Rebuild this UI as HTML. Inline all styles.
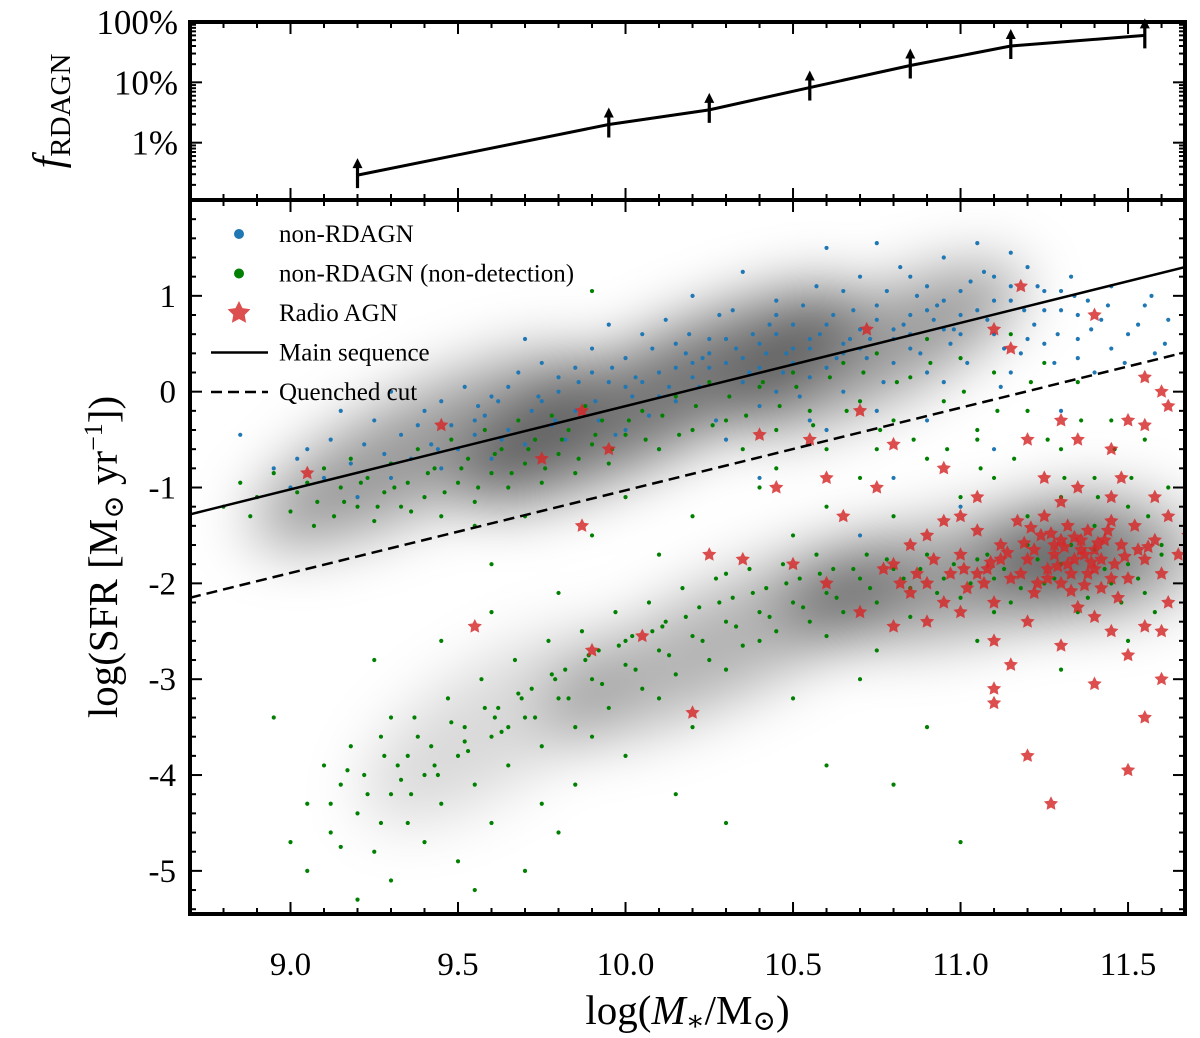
<!DOCTYPE html>
<html><head><meta charset="utf-8"><style>
html,body{margin:0;padding:0;background:#fff}
svg{display:block;font-family:"Liberation Serif","DejaVu Serif",serif}
</style></head><body>
<svg id="c" width="1200" height="1038" viewBox="0 0 1200 1038">
<defs>
<filter id="blur" x="-50%" y="-50%" width="200%" height="200%"><feGaussianBlur stdDeviation="30"/></filter>
<clipPath id="mainclip"><rect x="190" y="200" width="995" height="715"/></clipPath>
</defs>
<g id="density" clip-path="url(#mainclip)"><g id="densin" filter="url(#blur)"></g></g>
<g id="pts" clip-path="url(#mainclip)"></g>
<g id="axes"></g>
</svg>
<script>
const frac_x=[9.2,9.95,10.25,10.55,10.85,11.15,11.55];
const frac_pct=[0.29,2.0,3.5,8.2,19,40,60];
const blue=[8.85,-0.45,8.95,-0.8,9.0,-1.0,9.05,-0.6,9.1,-0.9,9.12,-0.5,9.18,-0.75,9.2,-1.1,9.25,-0.3,9.28,-0.65,9.3,-0.9,9.33,-0.45,9.36,-0.7,9.4,-0.2,9.42,-0.55,9.45,-0.8,9.48,-0.35,9.5,-0.6,9.52,0.05,9.55,-0.45,9.58,-0.25,9.6,-0.7,9.62,-0.1,9.65,-0.4,9.68,0.2,9.7,-0.55,9.72,-0.2,9.75,0.3,9.78,-0.35,9.8,0.0,9.82,-0.5,9.85,0.25,9.88,-0.15,9.9,0.45,9.92,-0.3,9.95,0.1,9.97,-0.45,10.0,0.35,10.02,-0.05,10.05,0.6,10.07,-0.25,10.1,0.2,10.12,0.75,10.15,-0.1,10.18,0.4,10.2,1.0,10.22,0.05,10.25,0.55,10.27,-0.3,10.3,0.3,10.32,0.85,10.35,0.1,10.38,0.6,10.4,-0.15,10.42,0.4,10.45,0.95,10.47,0.2,10.5,0.7,10.52,-0.05,10.55,0.45,10.57,1.1,10.6,0.25,10.62,0.8,10.65,0.0,10.67,0.55,10.7,1.2,10.72,0.35,10.75,0.9,10.77,0.1,10.8,0.65,10.82,1.3,10.85,0.45,10.87,1.0,10.9,0.2,10.92,0.75,10.95,1.4,10.97,0.5,11.0,1.05,11.02,0.3,11.05,0.85,11.07,1.25,11.1,0.6,11.12,0.05,11.15,0.95,11.18,0.4,11.2,1.3,11.22,0.7,11.25,1.05,11.28,0.3,11.3,0.85,11.33,1.2,11.35,0.55,11.38,0.95,11.4,0.2,11.42,0.75,11.45,1.1,11.5,0.6,11.55,0.9,11.58,0.4,11.62,0.75,10.1,-0.6,10.3,-0.5,10.6,-0.4,10.9,-0.3,11.1,-0.6,11.3,-0.2,10.8,-0.9,11.0,-1.2,10.7,-1.5,10.4,-0.9,9.95,0.7,9.7,0.55,10.35,1.25,10.6,1.5,10.75,1.55,11.05,1.55,11.15,1.45,9.3,0.0,9.15,-0.2,10.0,-0.4,10.45,0.0,10.55,0.15,10.65,0.4,10.85,0.8,11.25,0.5,11.45,0.45,10.25,0.25,10.15,0.5,9.85,-0.2,9.6,-0.05,10.4,0.5,10.7,0.65,10.95,0.95,11.15,1.1,11.35,0.8,10.05,0.1,10.2,0.3,10.5,0.45,10.8,0.3,11.0,0.6,9.75,-0.1,10.35,0.35,10.9,1.1,11.25,0.85,
9.02,-0.7,9.22,-0.55,9.38,-0.35,9.44,-0.6,9.56,-0.15,9.63,-0.5,9.74,-0.05,9.79,-0.3,9.86,0.1,9.91,-0.1,9.96,0.25,10.03,0.15,10.08,0.45,10.13,0.05,10.19,0.6,10.23,0.35,10.28,0.8,10.33,0.45,10.37,0.2,10.43,0.7,10.48,0.4,10.53,0.9,10.58,0.6,10.63,0.35,10.68,0.85,10.73,0.55,10.78,1.05,10.83,0.7,10.88,0.4,10.93,0.9,10.98,0.65,11.03,1.15,11.08,0.75,11.13,0.45,11.19,0.85,11.23,1.1,11.29,0.6,11.34,1.0,11.39,0.65,11.44,0.9,11.49,0.3,11.53,0.7,11.57,1.0,11.61,0.5,10.3,0.55,10.45,0.6,10.6,0.7,10.75,0.75,10.9,0.85,10.5,0.3,10.65,0.5,10.8,0.55,10.95,0.65,11.1,0.95,10.15,0.25,10.25,0.4,10.4,0.25,10.55,0.55,10.7,0.45,10.85,0.6,11.0,0.8,11.2,0.55,10.1,-0.05,9.9,0.2,10.0,0.05,10.2,0.15,9.8,0.15,9.65,0.05,9.55,-0.3,9.45,-0.1,10.85,1.2,10.65,1.05,10.45,0.8,11.1,1.2,11.3,1.05,10.55,-0.3,10.75,-0.2,10.95,0.1,11.15,0.2,11.35,0.35];
const green=[8.8,-1.2,8.85,-0.95,8.9,-1.1,8.95,-0.85,9.0,-1.25,9.05,-0.95,9.08,-1.15,9.1,-0.8,9.13,-1.3,9.15,-1.0,9.18,-0.7,9.2,-1.2,9.23,-0.9,9.25,-1.35,9.28,-1.05,9.3,-0.75,9.33,-1.2,9.35,-0.95,9.38,-0.6,9.4,-1.1,9.43,-0.8,9.45,-1.3,9.48,-0.5,9.5,-0.95,9.53,-0.7,9.55,-1.15,9.58,-0.4,9.6,-0.85,9.63,-0.6,9.65,-1.0,9.68,-0.3,9.7,-0.75,9.73,-0.5,9.75,-0.95,9.78,-0.25,9.8,-0.65,9.83,-0.4,9.85,-0.85,9.88,-0.15,9.9,-0.55,9.93,-0.3,9.95,-0.75,10.0,-0.45,10.05,-0.2,10.1,-0.6,10.15,-0.05,10.2,-0.4,10.25,0.1,10.3,-0.3,10.35,-0.6,10.4,0.05,10.45,-0.4,10.5,0.2,10.55,-0.2,10.6,-0.6,10.65,0.3,10.7,-0.1,10.75,0.4,10.8,-0.3,10.85,0.15,10.9,0.55,10.95,-0.1,11.0,0.35,11.05,-0.4,11.1,0.2,11.15,0.6,11.2,-0.2,11.25,0.3,11.3,-0.6,11.35,0.1,11.4,-0.9,11.45,-0.3,11.5,-1.2,11.55,-0.5,11.6,-1.6,11.62,-1.0,9.9,1.05,
9.7,-1.3,9.9,-1.5,10.0,-1.1,10.1,-1.7,10.2,-1.3,10.3,-1.9,10.4,-1.0,10.5,-1.5,10.6,-1.2,10.7,-0.9,10.8,-1.3,10.9,-0.7,11.0,-1.1,11.1,-0.9,11.2,-1.3,11.3,-1.1,11.4,-1.4,9.8,-2.1,9.6,-1.8,10.45,-0.8,10.75,-0.6,11.05,-0.5,9.55,-1.4,
9.05,-4.3,9.1,-3.9,9.12,-4.6,9.15,-4.1,9.18,-3.7,9.2,-4.4,9.22,-4.0,9.25,-4.8,9.27,-3.6,9.3,-4.2,9.32,-3.9,9.35,-4.5,9.37,-3.4,9.4,-4.0,9.42,-3.7,9.45,-4.3,9.47,-3.2,9.5,-3.8,9.52,-3.5,9.55,-4.1,9.57,-3.0,9.6,-3.6,9.62,-3.3,9.65,-3.9,9.67,-2.8,9.7,-3.4,9.72,-3.1,9.75,-3.7,9.77,-2.6,9.8,-3.2,9.82,-2.9,9.85,-3.5,9.87,-2.5,9.9,-3.0,9.92,-2.7,9.95,-3.3,9.97,-2.3,10.0,-2.85,10.02,-2.55,10.05,-3.1,10.07,-2.2,10.1,-2.7,10.12,-2.4,10.15,-2.95,10.17,-2.05,10.2,-2.55,10.22,-2.25,10.25,-2.8,10.27,-1.95,10.3,-2.4,10.32,-2.15,10.35,-2.65,10.37,-1.85,10.4,-2.3,10.42,-2.05,10.45,-2.5,10.47,-1.8,10.5,-2.2,10.52,-1.95,10.55,-2.4,10.57,-1.7,10.6,-2.1,10.62,-1.85,10.65,-2.3,10.7,-1.95,10.72,-1.7,10.75,-2.2,10.8,-1.85,10.85,-2.05,10.9,-1.7,10.95,-1.95,11.0,-2.15,11.05,-1.75,11.1,-1.95,11.15,-2.2,11.2,-1.6,11.25,-2.0,11.3,-1.8,11.35,-2.3,11.4,-1.65,11.45,-2.0,11.5,-1.8,11.55,-2.1,11.6,-1.7,
8.95,-3.4,9.0,-4.7,9.05,-5.0,9.2,-5.3,9.3,-5.1,9.5,-4.9,9.6,-4.5,9.7,-5.0,9.8,-4.6,10.15,-4.2,10.3,-4.5,10.6,-3.9,10.8,-4.1,11.0,-4.7,10.9,-3.5,10.7,-3.0,10.5,-3.2,10.2,-3.5,10.0,-3.8,9.45,-2.6,9.25,-2.8,9.6,-2.3,11.3,-2.9,11.5,-2.6,10.75,-2.7,11.05,-2.6,9.85,-4.1,9.4,-4.7,9.15,-4.75,9.55,-5.2,9.3,-3.4,9.75,-4.3,9.35,-3.8,9.65,-3.5,9.9,-3.6,10.1,-3.2,10.3,-2.9,10.4,-2.6,10.6,-2.55,10.85,-2.35,11.1,-2.3,
8.88,-1.3,9.02,-1.05,9.07,-1.4,9.16,-1.15,9.21,-0.95,9.26,-1.2,9.31,-1.0,9.36,-1.25,9.41,-0.85,9.46,-1.05,9.51,-0.8,9.56,-1.0,9.61,-0.65,9.66,-0.85,9.71,-0.6,9.76,-0.8,9.81,-0.5,9.86,-0.7,9.91,-0.45,9.96,-0.6,10.01,-0.3,10.06,-0.5,10.11,-0.25,10.16,-0.45,10.21,-0.15,10.26,-0.35,10.31,-0.05,10.36,-0.25,10.41,0.1,10.46,-0.15,10.51,0.05,10.56,-0.35,10.61,0.15,10.66,-0.2,10.71,0.2,10.76,-0.4,10.81,0.1,10.86,-0.5,10.91,0.3,10.96,-0.6,11.01,0.0,11.06,-0.8,11.11,-0.2,11.16,-0.7,11.21,0.1,11.26,-0.5,11.31,-0.9,11.36,-0.3,11.41,-1.1,11.46,-0.6,11.51,-0.9,11.56,-1.3,
9.12,-4.3,9.17,-3.95,9.23,-4.2,9.28,-3.8,9.33,-4.05,9.38,-3.6,9.43,-3.9,9.48,-3.45,9.53,-3.75,9.58,-3.3,9.63,-3.55,9.68,-3.15,9.73,-3.4,9.78,-2.95,9.83,-3.2,9.88,-2.8,9.93,-3.05,9.98,-2.65,10.03,-2.9,10.08,-2.5,10.13,-2.75,10.18,-2.35,10.23,-2.6,10.28,-2.2,10.33,-2.45,10.38,-2.1,10.43,-2.35,10.48,-2.0,10.53,-2.25,10.58,-1.9,10.63,-2.15,10.68,-1.85,10.73,-2.05,10.78,-1.75,10.83,-1.95,10.88,-1.85,10.93,-2.1,10.98,-1.8,11.03,-2.0,11.08,-1.7,11.13,-1.85,11.18,-2.05,11.23,-1.75,11.28,-1.95,11.33,-1.6,11.38,-2.15,11.43,-1.85,11.48,-2.2,11.53,-1.95,11.58,-2.3,9.27,-4.5,9.36,-4.2,9.44,-4.0,9.52,-3.65,9.61,-3.4,9.69,-3.2,9.79,-3.0,9.89,-2.75,10.0,-2.6,10.11,-2.45];
const red=[9.05,-0.85,9.45,-0.35,9.55,-2.45,9.75,-0.7,9.87,-0.2,9.87,-1.4,9.9,-2.7,9.95,-0.6,10.05,-2.55,10.2,-3.35,10.25,-1.7,10.35,-1.75,10.4,-0.45,10.45,-1.0,10.55,-0.5,10.6,-0.9,10.65,-1.3,10.7,-0.2,10.72,0.65,10.75,-1.0,10.8,-0.55,10.85,-1.6,10.9,-2.0,10.95,-0.8,11.0,-1.3,11.05,-1.9,11.1,0.65,11.15,0.45,11.2,-0.5,11.18,1.1,11.25,-0.9,11.3,-0.3,11.35,-0.5,11.4,0.8,11.45,-0.6,11.48,-0.9,11.55,-0.35,11.6,0.0,11.62,-0.15,11.58,-1.1,11.7,-1.0,11.72,-1.55,11.75,-1.15,
10.8,-1.8,10.85,-2.1,10.9,-1.5,10.95,-2.2,11.0,-1.7,11.02,-2.05,11.05,-1.45,11.08,-1.85,11.1,-2.2,11.12,-1.6,11.15,-1.95,11.17,-1.35,11.2,-1.75,11.22,-2.1,11.24,-1.5,11.26,-1.85,11.28,-1.6,11.3,-2.0,11.32,-1.4,11.34,-1.75,11.36,-1.55,11.38,-1.9,11.4,-1.65,11.42,-2.05,11.44,-1.45,11.46,-1.8,11.48,-1.6,11.5,-1.95,11.52,-1.4,11.55,-1.75,11.58,-1.55,11.6,-1.9,11.62,-1.3,11.65,-1.7,11.68,-1.5,11.25,-1.3,11.3,-1.15,11.35,-2.25,11.4,-2.35,11.45,-2.5,11.2,-2.4,11.1,-2.6,11.15,-2.85,11.3,-2.65,11.5,-2.75,11.55,-2.45,11.4,-3.05,11.6,-3.0,11.55,-3.4,11.5,-3.95,11.27,-4.3,11.2,-3.8,11.1,-3.25,11.1,-3.1,11.0,-2.3,10.9,-2.4,10.8,-2.45,10.7,-2.3,10.6,-2.0,10.5,-1.8,11.62,-2.2,11.7,-1.9,11.6,-2.5,11.33,-1.9,11.37,-1.7,11.43,-1.55,11.28,-1.7,11.38,-1.45,11.18,-1.9,11.23,-2.0,11.47,-2.15,11.53,-1.65,11.12,-1.75,11.07,-2.0,10.97,-1.9,11.35,-1.0,11.45,-1.1,11.05,-1.1,10.95,-1.35,11.5,-0.3,11.55,0.15,11.3,-1.55,11.32,-1.8,11.36,-1.65,11.42,-1.75,11.26,-1.95,11.4,-1.85,11.22,-1.65,11.45,-1.95,
11.31,-1.62,11.34,-1.52,11.29,-1.82,11.39,-1.78,11.27,-1.48,11.41,-1.58,11.19,-1.58,11.49,-1.72,11.14,-1.68,11.56,-1.62,11.09,-1.78,11.33,-2.08,11.37,-2.02,11.21,-1.42,11.45,-1.35,11.01,-1.85,10.92,-1.75,10.87,-1.9,10.82,-2.0,10.77,-1.85];
const ms_x=[8.7,11.67], ms_y=[-1.28,1.30];
const qc_x=[8.7,11.67], qc_y=[-2.15,0.41];
const xTicks=[9.0,9.5,10.0,10.5,11.0,11.5];
const yTicks=[1,0,-1,-2,-3,-4,-5];
const fTicks=[1,10,100];

const NS="http://www.w3.org/2000/svg";
const X0=8.7,X1=11.67,PL=190,PR=1185;
const sx=v=>PL+(v-X0)/(X1-X0)*(PR-PL);
const Y0=-5.45,Y1=2.0,PT=200,PB=914;
const sy=v=>PB-(v-Y0)/(Y1-Y0)*(PB-PT);
const FT=22,FB=200,L0=-0.95,L1=2.0;
const fy=p=>FB-(Math.log10(p)-L0)/(L1-L0)*(FB-FT);
function mk(tag,attrs,parent,txt){const e=document.createElementNS(NS,tag);for(const k in attrs)e.setAttribute(k,attrs[k]);if(txt!==undefined)e.textContent=txt;parent.appendChild(e);return e;}
const dens=document.getElementById('densin');
const pts=document.getElementById('pts');
const ax=document.getElementById('axes');

[[9.4,-0.6,190,55,-26,0.4],[10.1,-0.05,220,55,-26,0.55],[10.75,0.45,160,50,-26,0.4],[9.6,-3.5,150,60,-33,0.15],[10.3,-2.6,200,55,-25,0.3],[11.0,-1.95,180,55,-10,0.4],[11.4,-1.7,110,60,0,0.35]].forEach(d=>{
 const e=mk('ellipse',{cx:sx(d[0]),cy:sy(d[1]),rx:d[2],ry:d[3],transform:`rotate(${d[4]} ${sx(d[0])} ${sy(d[1])})`,fill:'#000','fill-opacity':d[5]},dens);
 
 
});

for(let i=0;i<blue.length;i+=2){const c=mk('circle',{cx:sx(blue[i]),cy:sy(blue[i+1]),r:2.1,fill:'#1f77b4'},pts);

}
for(let i=0;i<green.length;i+=2){const c=mk('circle',{cx:sx(green[i]),cy:sy(green[i+1]),r:2.1,fill:'#008000'},pts);

}
function star(cx,cy,R){let d='';for(let k=0;k<10;k++){const r=k%2?R*0.5:R;const a=-Math.PI/2+k*Math.PI/5;d+=(k?'L':'M')+(cx+r*Math.cos(a)).toFixed(1)+','+(cy+r*Math.sin(a)).toFixed(1);}return d+'Z';}
for(let i=0;i<red.length;i+=2){const s=mk('path',{d:star(sx(red[i]),sy(red[i+1]),7.5),fill:'#d62728','fill-opacity':0.82},pts);

}

const ml=mk('line',{x1:sx(ms_x[0]),y1:sy(ms_y[0]),x2:sx(ms_x[1]),y2:sy(ms_y[1]),stroke:'#000','stroke-width':2.5},pts);


const ql=mk('line',{x1:sx(qc_x[0]),y1:sy(qc_y[0]),x2:sx(qc_x[1]),y2:sy(qc_y[1]),stroke:'#000','stroke-width':2.5,'stroke-dasharray':'11,6'},pts);



let dl='';frac_x.forEach((x,i)=>{dl+=(i?'L':'M')+sx(x)+','+fy(frac_pct[i]);});
const fl=mk('path',{d:dl,fill:'none',stroke:'#000','stroke-width':3},ax);


frac_x.forEach((x,i)=>{const px=sx(x),py=fy(frac_pct[i]);
 const g=mk('g',{},ax);
 
 
 mk('line',{x1:px,y1:py+13,x2:px,y2:py-8,stroke:'#000','stroke-width':3.2},g);
 mk('path',{d:`M${px-5},${py-7}L${px},${py-17}L${px+5},${py-7}Z`,fill:'#000'},g);
});

const f1=mk('rect',{x:PL,y:FT,width:PR-PL,height:FB-FT,fill:'none',stroke:'#000','stroke-width':4},ax);


const f2=mk('rect',{x:PL,y:PT,width:PR-PL,height:PB-PT,fill:'none',stroke:'#000','stroke-width':4},ax);



for(let v=8.7;v<=11.67;v+=0.1){const r=Math.round(v*10)/10;const maj=Math.abs(r*2-Math.round(r*2))<1e-6;const L=maj?12:6;const px=sx(r);
 mk('line',{x1:px,y1:PB,x2:px,y2:PB-L,stroke:'#000','stroke-width':2},ax);
 mk('line',{x1:px,y1:PT,x2:px,y2:PT+L,stroke:'#000','stroke-width':2},ax);
 mk('line',{x1:px,y1:FB,x2:px,y2:FB-L,stroke:'#000','stroke-width':2},ax);
 mk('line',{x1:px,y1:FT,x2:px,y2:FT+L,stroke:'#000','stroke-width':2},ax);}
xTicks.forEach(v=>{const t=mk('text',{x:sx(v),y:975,'font-size':33,'text-anchor':'middle'},ax,v.toFixed(1));

});
for(let v=-5.4;v<=2.0;v+=0.2){const r=Math.round(v*10)/10;const maj=Math.abs(r-Math.round(r))<1e-6;const L=maj?12:6;const py=sy(r);
 mk('line',{x1:PL,y1:py,x2:PL+L,y2:py,stroke:'#000','stroke-width':2},ax);
 mk('line',{x1:PR,y1:py,x2:PR-L,y2:py,stroke:'#000','stroke-width':2},ax);}
yTicks.forEach(v=>{const t=mk('text',{x:176,y:sy(v)+11,'font-size':33,'text-anchor':'end'},ax,String(v));

});
for(let d=-1;d<2;d++){for(let m=1;m<10;m++){const p=m*Math.pow(10,d);if(p<Math.pow(10,L0))continue;const py=fy(p);const L=m===1?12:6;
 mk('line',{x1:PL,y1:py,x2:PL+L,y2:py,stroke:'#000','stroke-width':2},ax);
 mk('line',{x1:PR,y1:py,x2:PR-L,y2:py,stroke:'#000','stroke-width':2},ax);}}
fTicks.forEach(v=>{const t=mk('text',{x:178,y:fy(v)+12,'font-size':35,'text-anchor':'end'},ax,v+'%');

});

const lg=mk('g',{},ax);


const items=[['dot','#1f77b4','non-RDAGN'],['dot','#008000','non-RDAGN (non-detection)'],['star','#d62728','Radio AGN'],['line','','Main sequence'],['dash','','Quenched cut']];
items.forEach((it,i)=>{const y=234+i*39.5;
 const e=mk('g',{},lg);
 
 
 if(it[0]==='dot')mk('circle',{cx:239,cy:y,r:5,fill:it[1]},e);
 if(it[0]==='star')mk('path',{d:star(239,y,12),fill:it[1],'fill-opacity':0.82},e);
 if(it[0]==='line')mk('line',{x1:211,y1:y,x2:268,y2:y,stroke:'#000','stroke-width':2.5},e);
 if(it[0]==='dash')mk('line',{x1:211,y1:y,x2:268,y2:y,stroke:'#000','stroke-width':2.5,'stroke-dasharray':'11,6'},e);
 mk('text',{x:279,y:y+8,'font-size':25},e,it[2]);});

const yt=mk('text',{x:0,y:0,'font-size':41,'text-anchor':'middle',transform:`translate(117,${(PT+PB)/2}) rotate(-90)`},ax);


yt.innerHTML='log(SFR [M<tspan font-size="28" dy="6">⊙</tspan><tspan dy="-6"> yr</tspan><tspan font-size="26" dy="-15">−1</tspan><tspan dy="15">])</tspan>';
const ft=mk('text',{x:0,y:0,'font-size':42,'text-anchor':'middle',transform:`translate(62,${(FT+FB)/2}) rotate(-90)`},ax);


ft.innerHTML='<tspan font-style="italic">f</tspan><tspan font-size="29" dy="8">RDAGN</tspan>';
const xt=mk('text',{x:(PL+PR)/2,y:1024,'font-size':41,'text-anchor':'middle'},ax);


xt.innerHTML='log(<tspan font-style="italic">M</tspan><tspan font-size="28" dy="6">∗</tspan><tspan dy="-6">/M</tspan><tspan font-size="28" dy="6">⊙</tspan><tspan dy="-6">)</tspan>';
</script>
</body></html>
